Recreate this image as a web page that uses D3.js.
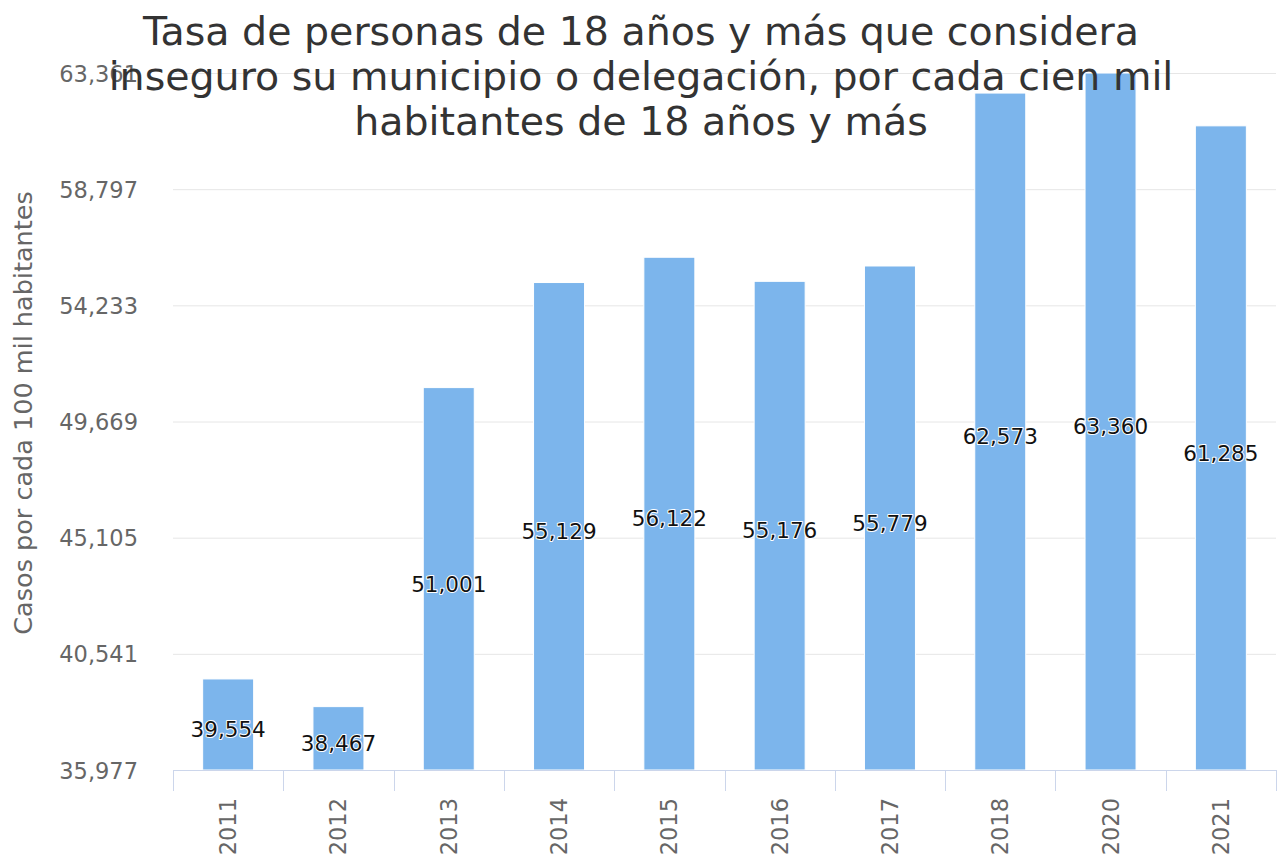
<!DOCTYPE html>
<meta charset="utf-8">
<style>
body { margin: 0; background: #fff; }
svg text { font-family: "DejaVu Sans", sans-serif; }
.grid line { stroke: #e6e6e6; stroke-width: 1px; }
.grid path { display: none; }
.axis--y path, .axis--y line { display: none; }
.axis--y text { fill: #666; font-size: 22.5px; }
.axis--x path, .axis--x line { stroke: #ccd6eb; }
.axis--x text { fill: #666; font-size: 22.5px; }
.bar { fill: #7cb5ec; stroke: #fff; stroke-width: 1px; }
.label { font-size: 21.5px; fill: #111; stroke: #fff; stroke-width: 2px; paint-order: stroke; stroke-linejoin: round; }
</style>
<svg width="1282" height="859"></svg>
<script src="https://cdn.jsdelivr.net/npm/d3@7"></script>
<script>

var years = ["2011", "2012", "2013", "2014", "2015", "2016", "2017", "2018", "2020", "2021"];
var values = [39554, 38467, 51001, 55129, 56122, 55176, 55779, 62573, 63360, 61285];
var yTicks = [35977, 40541, 45105, 49669, 54233, 58797, 63361];
var titleLines = [
  "Tasa de personas de 18 años y más que considera",
  "inseguro su municipio o delegación, por cada cien mil",
  "habitantes de 18 años y más"
];
var yTitle = "Casos por cada 100 mil habitantes";

var svg = d3.select("svg"),
    margin = {top: 73, right: 6, bottom: 89, left: 173},
    width = svg.attr("width") - margin.left - margin.right,
    height = svg.attr("height") - margin.top - margin.bottom,
    g = svg.append("g").attr("transform", "translate(" + margin.left + "," + margin.top + ")");

var xCat = d3.scaleBand().domain(years).range([0, width]),
    y = d3.scaleLinear().domain([yTicks[0], yTicks[yTicks.length - 1]]).range([height, 0]);

var barWidth = 51;
var fmt = d3.format(",");

g.append("g")
    .attr("class", "grid")
    .call(d3.axisLeft(y).tickValues(yTicks).tickSize(-width).tickFormat(""));

g.append("g")
    .attr("class", "axis axis--y")
    .call(d3.axisLeft(y).tickValues(yTicks).tickSize(0).tickPadding(35).tickFormat(fmt))
  .selectAll("text")
    .attr("dy", "0.36em");

g.selectAll(".bar")
  .data(values)
  .enter().append("rect")
    .attr("class", "bar")
    .attr("x", function(d, i) { return xCat(years[i]) + (xCat.bandwidth() - barWidth) / 2; })
    .attr("width", barWidth)
    .attr("y", function(d) { return y(d); })
    .attr("height", function(d) { return height - y(d); });

// x axis, ticks sit on the category boundaries
var xAxis = g.append("g")
    .attr("class", "axis axis--x")
    .attr("transform", "translate(0," + height + ")");

xAxis.append("path")
    .attr("d", "M0,0.5H" + width);

xAxis.selectAll(".tick-line")
  .data(years.concat(["end"]))
  .enter().append("line")
    .attr("x1", function(d, i) { return Math.round(i * xCat.step()) + 0.5; })
    .attr("x2", function(d, i) { return Math.round(i * xCat.step()) + 0.5; })
    .attr("y1", 0)
    .attr("y2", 21);

xAxis.selectAll(".xlabel")
  .data(years)
  .enter().append("text")
    .attr("transform", function(d) { return "translate(" + (xCat(d) + xCat.bandwidth() / 2 + 8) + ",28) rotate(-90)"; })
    .attr("text-anchor", "end")
    .text(function(d) { return d; });

g.selectAll(".label")
  .data(values)
  .enter().append("text")
    .attr("class", "label")
    .attr("text-anchor", "middle")
    .attr("x", function(d, i) { return xCat(years[i]) + xCat.bandwidth() / 2; })
    .attr("y", function(d) { return (y(d) + height) / 2 + 5; })
    .attr("dy", "0.36em")
    .text(function(d) { return fmt(d); });

svg.append("text")
    .attr("transform", "translate(32,413) rotate(-90)")
    .attr("text-anchor", "middle")
    .style("fill", "#666")
    .style("font-size", "25.5px")
    .text(yTitle);

svg.append("g").selectAll("text")
  .data(titleLines)
  .enter().append("text")
    .attr("x", 641)
    .attr("y", function(d, i) { return 45 + i * 45; })
    .attr("text-anchor", "middle")
    .style("fill", "#333")
    .style("font-size", "39.5px")
    .text(function(d) { return d; });

</script>
